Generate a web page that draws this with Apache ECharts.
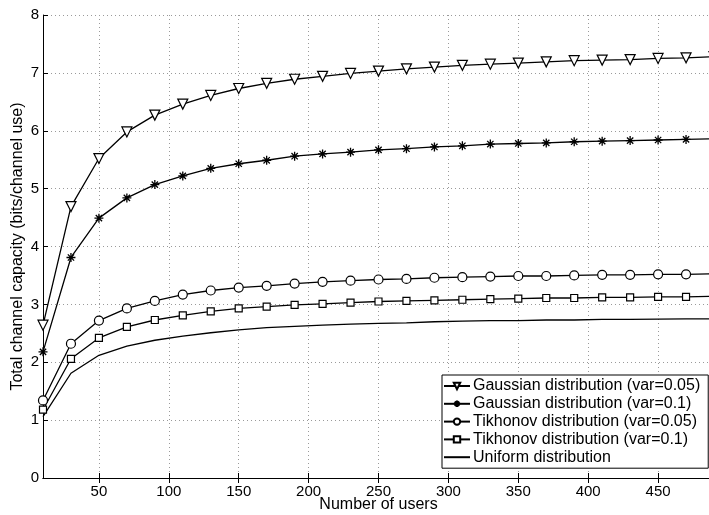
<!DOCTYPE html>
<html>
<head>
<meta charset="utf-8">
<script src="https://cdn.jsdelivr.net/npm/echarts@6/dist/echarts.min.js"></script>
<style>
  html, body { margin: 0; padding: 0; background: #fff; }
  #chart { width: 709px; height: 515px; }
</style>
</head>
<body>
<div id="chart"></div>
<script>
// Number of users (x values of every curve)
const users = [10, 30, 50, 70, 90, 110, 130, 150, 170, 190, 210, 230, 250,
               270, 290, 310, 330, 350, 370, 390, 410, 430, 450, 470, 490];

// Total channel capacity (bits/channel use) per distribution
const gaussian005 = [2.64, 4.69, 5.52, 5.98, 6.27, 6.46, 6.61, 6.73, 6.82, 6.89, 6.94, 6.99, 7.03,
                     7.07, 7.10, 7.13, 7.15, 7.17, 7.19, 7.21, 7.22, 7.23, 7.25, 7.26, 7.28];
const gaussian01  = [2.18, 3.81, 4.49, 4.84, 5.07, 5.22, 5.35, 5.43, 5.49, 5.56, 5.60, 5.63, 5.67,
                     5.69, 5.72, 5.74, 5.77, 5.78, 5.79, 5.81, 5.82, 5.83, 5.84, 5.85, 5.86];
const tikhonov005 = [1.34, 2.32, 2.72, 2.93, 3.06, 3.17, 3.24, 3.29, 3.32, 3.36, 3.39, 3.41, 3.43,
                     3.44, 3.46, 3.47, 3.48, 3.49, 3.49, 3.50, 3.51, 3.51, 3.52, 3.52, 3.53];
const tikhonov01  = [1.18, 2.06, 2.42, 2.61, 2.73, 2.81, 2.88, 2.93, 2.96, 2.99, 3.01, 3.03, 3.05,
                     3.06, 3.07, 3.08, 3.09, 3.10, 3.11, 3.11, 3.12, 3.12, 3.13, 3.13, 3.14];
const uniform     = [1.06, 1.81, 2.12, 2.28, 2.38, 2.45, 2.51, 2.56, 2.60, 2.62, 2.64, 2.66, 2.67,
                     2.68, 2.70, 2.71, 2.72, 2.72, 2.73, 2.73, 2.74, 2.74, 2.745, 2.75, 2.75];

const seriesNames = [
  'Gaussian distribution (var=0.05)',
  'Gaussian distribution (var=0.1)',
  'Tikhonov distribution (var=0.05)',
  'Tikhonov distribution (var=0.1)',
  'Uniform distribution'
];

// Axis ticks
const xTicks = [50, 100, 150, 200, 250, 300, 350, 400, 450];
const xRange = [10, 490];
const yRange = [0, 8];

const FONT = '"Liberation Sans", Arial, Helvetica, sans-serif';
const asterisk = 'path://M5,0L5,10M0,5L10,5M1.5,1.5L8.5,8.5M1.5,8.5L8.5,1.5';

function pairs(ys) { return users.map((x, i) => [x, ys[i]]); }

function curve(name, ys, symbol, size, extra) {
  return Object.assign({
    name: name,
    type: 'line',
    data: pairs(ys),
    symbol: symbol,
    symbolSize: size,
    showSymbol: symbol !== 'none',
    lineStyle: { color: '#000', width: 1.3 },
    itemStyle: { color: '#fff', borderColor: '#000', borderWidth: 1.2 },
    emphasis: { disabled: true },
    z: 3
  }, extra || {});
}

const chart = echarts.init(document.getElementById('chart'), null, { renderer: 'canvas' });

const tickStyle = { show: true, inside: true, length: 5, lineStyle: { color: '#000', width: 1 } };

// Legend entries; the plain line entry shows no marker
const legendData = seriesNames.map((n, i) => i === 4
  ? { name: n, itemStyle: { color: 'rgba(0,0,0,0)', borderColor: 'rgba(0,0,0,0)', borderWidth: 0 } }
  : { name: n });

chart.setOption({
  animation: false,
  backgroundColor: '#fff',
  textStyle: { fontFamily: FONT },
  grid: { left: 43, top: 15, width: 671, height: 463, outerBoundsMode: 'none', containLabel: false },
  legend: {
    data: legendData,
    orient: 'vertical',
    left: 442,
    top: 375,
    itemWidth: 26,
    itemHeight: 8,
    itemGap: 1.8,
    padding: [3, 8, 3, 1],
    backgroundColor: '#fff',
    borderColor: '#000',
    borderWidth: 1,
    borderRadius: 0,
    textStyle: { fontFamily: FONT, fontSize: 16, color: '#000', lineHeight: 16, padding: [0, 0, 0, -2] },
    selectedMode: false
  },
  xAxis: [
    {
      type: 'value', min: xRange[0], max: xRange[1], position: 'bottom',
      name: 'Number of users', nameLocation: 'middle', nameGap: 19, nameMoveOverlap: false,
      nameTextStyle: { fontFamily: FONT, fontSize: 16, color: '#000' },
      axisLine: { show: true, lineStyle: { color: '#000', width: 1 } },
      axisTick: Object.assign({ customValues: xTicks }, tickStyle),
      axisLabel: { customValues: xTicks, color: '#000', fontSize: 15, fontFamily: FONT, margin: 6 },
      splitLine: { show: true, lineStyle: { color: '#9a9a9a', type: [1, 3], width: 1 } }
    },
    {
      type: 'value', min: xRange[0], max: xRange[1], position: 'top',
      axisLine: { show: true, lineStyle: { color: '#000', width: 1 } },
      axisTick: Object.assign({ customValues: xTicks }, tickStyle),
      axisLabel: { show: false },
      splitLine: { show: false }
    }
  ],
  yAxis: [
    {
      type: 'value', min: yRange[0], max: yRange[1], interval: 1, position: 'left',
      name: 'Total channel capacity (bits/channel use)', nameLocation: 'middle', nameGap: 17,
      nameMoveOverlap: false,
      nameTextStyle: { fontFamily: FONT, fontSize: 16, color: '#000' },
      axisLine: { show: true, lineStyle: { color: '#000', width: 1 } },
      axisTick: tickStyle,
      axisLabel: { color: '#000', fontSize: 15, fontFamily: FONT, margin: 4 },
      splitLine: { show: true, lineStyle: { color: '#9a9a9a', type: [1, 3], width: 1 } }
    },
    {
      type: 'value', min: yRange[0], max: yRange[1], interval: 1, position: 'right',
      axisLine: { show: true, lineStyle: { color: '#000', width: 1 } },
      axisTick: tickStyle,
      axisLabel: { show: false },
      splitLine: { show: false }
    }
  ],
  series: [
    curve(seriesNames[0], gaussian005, 'triangle', 10, { symbolRotate: 180 }),
    curve(seriesNames[1], gaussian01, asterisk, 9, {
      itemStyle: { color: '#000', borderColor: '#000', borderWidth: 1.3 }
    }),
    curve(seriesNames[2], tikhonov005, 'circle', 9),
    curve(seriesNames[3], tikhonov01, 'rect', 7),
    curve(seriesNames[4], uniform, 'none', 0)
  ]
});
</script>
</body>
</html>
